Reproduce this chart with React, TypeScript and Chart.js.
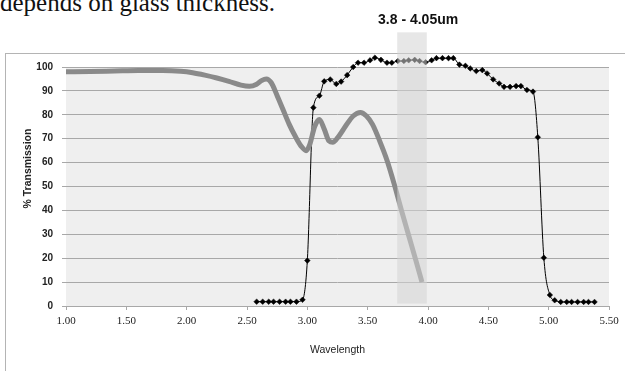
import React, { useEffect, useRef } from 'react';
import { Chart, registerables } from 'chart.js';

Chart.register(...registerables);

// Glass transmission curve (thick gray)
const GRAY_X = [1.0, 1.2, 1.4, 1.6, 1.8, 1.95, 2.05, 2.15, 2.25, 2.35, 2.45, 2.52, 2.58, 2.62, 2.66, 2.7, 2.75, 2.8, 2.85, 2.9, 2.95, 2.99, 3.02, 3.06, 3.1, 3.14, 3.18, 3.21, 3.26, 3.32, 3.38, 3.44, 3.49, 3.54, 3.6, 3.66, 3.72, 3.78, 3.84, 3.9, 3.95];
const GRAY_Y = [98.0, 98.1, 98.3, 98.5, 98.5, 98.2, 97.6, 96.6, 95.4, 94.0, 92.4, 91.9, 92.8, 94.3, 95.0, 93.5, 88.0, 82.0, 76.0, 71.0, 66.8, 65.0, 67.5, 75.0, 78.0, 74.0, 69.0, 68.5, 71.0, 75.5, 79.5, 81.0, 79.5, 76.0, 69.0, 61.0, 51.0, 40.0, 29.5, 19.0, 10.0];

// Filter transmission (black markers)
const BLACK_X = [2.58, 2.63, 2.68, 2.72, 2.77, 2.82, 2.86, 2.91, 2.96, 3.0, 3.05, 3.1, 3.14, 3.19, 3.24, 3.28, 3.33, 3.38, 3.42, 3.47, 3.52, 3.56, 3.61, 3.66, 3.7, 3.75, 3.8, 3.84, 3.89, 3.93, 3.98, 4.03, 4.07, 4.12, 4.17, 4.21, 4.26, 4.31, 4.35, 4.4, 4.45, 4.49, 4.54, 4.59, 4.63, 4.68, 4.73, 4.77, 4.82, 4.87, 4.91, 4.96, 5.01, 5.05, 5.1, 5.15, 5.19, 5.24, 5.29, 5.33, 5.38];
const BLACK_Y = [1.8, 1.8, 1.8, 1.8, 1.8, 1.8, 1.8, 1.8, 2.6, 19, 83, 88, 94, 94.8, 92.9, 93.9, 96.6, 100, 101.8, 101.8, 102.8, 103.9, 103, 101.8, 101.8, 102.5, 102.5, 102.8, 103, 102.5, 102, 102.8, 103.7, 103.7, 103.7, 103.7, 101, 100.5, 99.4, 98.3, 98.7, 97.3, 94.8, 93.1, 91.7, 91.7, 92, 92, 90.4, 89.7, 70.6, 20.2, 4.6, 2.4, 1.7, 1.7, 1.7, 1.7, 1.7, 1.7, 1.7];

const X_TICK_LABELS = ['1.00', '1.50', '2.00', '2.50', '3.00', '3.50', '4.00', '4.50', '5.00', '5.50'];
const Y_TICK_LABELS = ['0', '10', '20', '30', '40', '50', '60', '70', '80', '90', '100'];
const Y_PLOT_MAX = 100; // top of the shaded plot area
const Y_SCALE_MAX = 115; // headroom so markers above 100 remain visible

// Highlighted window
const BAND_X = [3.745, 3.99];
const BAND_Y = [1, 114.5];
const BAND_LABEL = '3.8 - 4.05um';
const BAND_LABEL_POS = [3.918, 118.2];

export default function App() {
  const ref = useRef<HTMLCanvasElement>(null);

  useEffect(() => {
    if (!ref.current) return;
    const bgPlugin = {
      id: 'plotBg',
      beforeDraw(chart: any) {
        const { ctx, chartArea: a } = chart;
        const top = chart.scales.y.getPixelForValue(Y_PLOT_MAX);
        ctx.save();
        ctx.fillStyle = '#efefef';
        ctx.fillRect(a.left, top, a.right - a.left, a.bottom - top);
        ctx.restore();
      },
    };
    const bandPlugin = {
      id: 'band',
      afterDatasetsDraw(chart: any) {
        const { ctx } = chart;
        const xs = chart.scales.x;
        const ys = chart.scales.y;
        const x0 = xs.getPixelForValue(BAND_X[0]);
        const x1 = xs.getPixelForValue(BAND_X[1]);
        const y0 = ys.getPixelForValue(BAND_Y[1]);
        const y1 = ys.getPixelForValue(BAND_Y[0]);
        ctx.save();
        ctx.fillStyle = 'rgba(212,212,212,0.55)';
        ctx.fillRect(x0, y0, x1 - x0, y1 - y0);
        ctx.fillStyle = '#111';
        ctx.font = 'bold 14px "Liberation Sans", Arial, sans-serif';
        ctx.textAlign = 'center';
        ctx.textBaseline = 'alphabetic';
        ctx.fillText(BAND_LABEL, xs.getPixelForValue(BAND_LABEL_POS[0]), ys.getPixelForValue(BAND_LABEL_POS[1]));
        ctx.restore();
      },
    };

    const chart = new Chart(ref.current, {
      type: 'scatter',
      data: {
        datasets: [
          {
            data: GRAY_X.map((x, i) => ({ x, y: GRAY_Y[i] })),
            showLine: true,
            borderColor: '#8a8a8a',
            borderWidth: 5,
            pointRadius: 0,
            cubicInterpolationMode: 'monotone',
            clip: false as any,
          },
          {
            data: BLACK_X.map((x, i) => ({ x, y: BLACK_Y[i] })),
            showLine: true,
            borderColor: '#000',
            borderWidth: 1,
            pointStyle: 'rectRot',
            pointRadius: 2.8,
            pointBackgroundColor: '#000',
            pointBorderColor: '#000',
            pointBorderWidth: 0.5,
            cubicInterpolationMode: 'monotone',
            clip: false as any,
          },
        ],
      },
      options: {
        animation: false,
        responsive: false,
        devicePixelRatio: 1,
        layout: { padding: { top: 31.15, right: 16, left: 0, bottom: 0 } },
        plugins: { legend: { display: false }, tooltip: { enabled: false } },
        scales: {
          x: {
            type: 'linear',
            min: 1,
            max: 5.5,
            afterFit: (s: any) => { s.height = 65; },
            afterBuildTicks: (s: any) => {
              s.ticks = X_TICK_LABELS.map((l) => ({ value: parseFloat(l) }));
            },
            ticks: {
              callback: (v: any) => X_TICK_LABELS.find((l) => parseFloat(l) === v) ?? '',
              font: { family: '"Liberation Serif", serif', size: 11 },
              color: '#222',
              padding: 5,
              maxRotation: 0,
            },
            grid: { drawOnChartArea: false, drawTicks: true, tickLength: 4, color: '#a8a8a8' },
            border: { display: true, color: '#a8a8a8' },
            title: {
              display: true,
              text: 'Wavelength',
              font: { family: '"Liberation Sans", Arial, sans-serif', size: 10.5 },
              color: '#222',
              padding: { top: 0, bottom: 15 },
            },
          },
          y: {
            type: 'linear',
            min: 0,
            max: Y_SCALE_MAX,
            afterFit: (s: any) => { s.width = 66; },
            afterBuildTicks: (s: any) => {
              s.ticks = Y_TICK_LABELS.map((l) => ({ value: parseFloat(l) }));
            },
            ticks: {
              callback: (v: any) => String(v),
              font: { family: '"Liberation Sans", Arial, sans-serif', size: 10, weight: 'bold' },
              color: '#222',
              padding: 9,
            },
            grid: { color: '#a8a8a8', tickLength: 4 },
            border: { display: false },
            title: {
              display: true,
              text: '% Transmission',
              font: { family: '"Liberation Sans", Arial, sans-serif', size: 10.5, weight: 'bold' },
              color: '#222',
              padding: { top: 22, bottom: 0 },
            },
          },
        },
      },
      plugins: [bgPlugin, bandPlugin],
    } as any);
    return () => chart.destroy();
  }, []);

  return (
    <div style={{ position: 'absolute', left: 0, top: 0, width: 625, height: 371, overflow: 'hidden', background: '#fff' }}>
      <div
        style={{
          position: 'absolute',
          left: 0,
          top: -10,
          fontFamily: '"Liberation Serif", "Times New Roman", serif',
          fontSize: 25,
          lineHeight: '25px',
          color: '#111',
          whiteSpace: 'nowrap',
        }}
      >
        depends on glass thickness.
      </div>
      <div
        style={{
          position: 'absolute',
          left: 5,
          top: 53,
          width: 640,
          height: 340,
          borderTop: '1px solid #b4b4b4',
          borderLeft: '1px solid #b4b4b4',
        }}
      />
      <canvas ref={ref} width={625} height={371} style={{ position: 'absolute', left: 0, top: 0 }} />
    </div>
  );
}
